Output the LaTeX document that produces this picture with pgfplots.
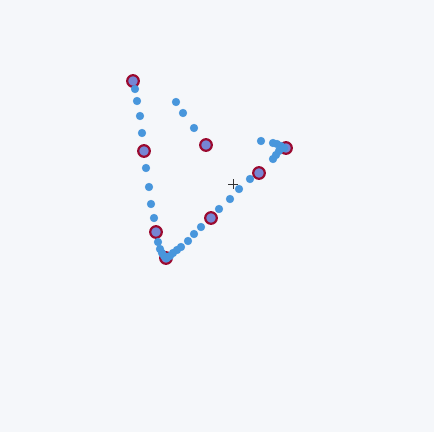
\documentclass[border=0pt]{standalone}
\usepackage{pgfplots}
\pgfplotsset{compat=1.18}
\definecolor{bg}{RGB}{245,247,250}
\definecolor{dotblue}{RGB}{72,150,220}
\definecolor{ptred}{RGB}{155,10,48}
\definecolor{ptfill}{RGB}{118,134,212}
\begin{document}
\begin{tikzpicture}
\begin{axis}[
  scale only axis, width=434pt, height=432pt,
  xmin=0, xmax=434, ymin=0, ymax=432, y dir=reverse,
  axis lines=none, clip=false,
  axis background/.style={fill=bg},
]
% red anchor points
\addplot[only marks, mark=*, mark size=5.8pt, mark options={draw=ptred, fill=ptfill, line width=2.2pt}]
coordinates {(133,81) (144,151) (156,232) (166,258) (211,218) (259,173) (286,148) (206,145)};
% blue dotted path
\addplot[only marks, mark=*, mark size=3.9pt, mark options={draw=dotblue, fill=dotblue}]
coordinates {
(135,89) (137,101) (140,116) (142,133) (146,168) (149,187) (151,204) (154,218) (158,242) (160,249)
(162,253) (164,256) (167,258) (170,256) (173,253) (177,250) (181,247) (188,241) (194,234) (201,227)
(219,209) (230,199) (239,189) (250,179)
(273,159) (276,155) (279,151) (282,148) (284,148) (281,146) (277,144) (273,143) (261,141)
(176,102) (183,113) (194,128)
};
% plus marker
\addplot[only marks, mark=+, mark size=5pt, mark options={draw=black!80, line width=0.7pt}]
coordinates {(233,184)};
\end{axis}
\end{tikzpicture}
\end{document}
